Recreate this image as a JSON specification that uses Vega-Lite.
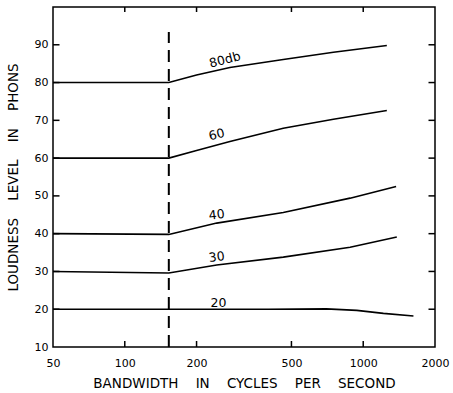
{
  "$schema": "https://vega.github.io/schema/vega-lite/v6.json",
  "width": 382,
  "height": 340,
  "autosize": {"type": "none"},
  "padding": {"left": 53, "top": 7, "right": 18, "bottom": 46},
  "background": "white",
  "config": {
    "font": "DejaVu Sans",
    "view": {"stroke": "black", "strokeWidth": 1.5},
    "axis": {
      "grid": false,
      "domain": false,
      "ticks": false,
      "labelColor": "black",
      "labelFont": "DejaVu Sans",
      "labelFontSize": 11,
      "titleColor": "black",
      "titleFont": "DejaVu Sans",
      "titleFontSize": 13.5,
      "titleFontWeight": "normal"
    }
  },
  "datasets": {
    "curves": [
      {"series": "80", "f": 50, "v": 80},
      {"series": "80", "f": 153, "v": 80},
      {"series": "80", "f": 200, "v": 82.0},
      {"series": "80", "f": 276, "v": 84.0},
      {"series": "80", "f": 462, "v": 86.1},
      {"series": "80", "f": 750, "v": 88.0},
      {"series": "80", "f": 1256, "v": 89.8},
      {"series": "60", "f": 50, "v": 60},
      {"series": "60", "f": 153, "v": 60},
      {"series": "60", "f": 200, "v": 62.0},
      {"series": "60", "f": 276, "v": 64.4},
      {"series": "60", "f": 462, "v": 67.9},
      {"series": "60", "f": 750, "v": 70.3},
      {"series": "60", "f": 1256, "v": 72.6},
      {"series": "40", "f": 50, "v": 40},
      {"series": "40", "f": 153, "v": 39.8},
      {"series": "40", "f": 243, "v": 42.8},
      {"series": "40", "f": 462, "v": 45.6},
      {"series": "40", "f": 881, "v": 49.4},
      {"series": "40", "f": 1374, "v": 52.5},
      {"series": "30", "f": 50, "v": 30},
      {"series": "30", "f": 153, "v": 29.6},
      {"series": "30", "f": 243, "v": 31.7},
      {"series": "30", "f": 462, "v": 33.8},
      {"series": "30", "f": 881, "v": 36.4},
      {"series": "30", "f": 1383, "v": 39.1},
      {"series": "20", "f": 50, "v": 20},
      {"series": "20", "f": 153, "v": 20},
      {"series": "20", "f": 400, "v": 20},
      {"series": "20", "f": 700, "v": 20.1},
      {"series": "20", "f": 940, "v": 19.7},
      {"series": "20", "f": 1215, "v": 18.9},
      {"series": "20", "f": 1624, "v": 18.2}
    ],
    "critical": [
      {"f": 153, "v": 10, "v2": 93.4}
    ],
    "xticks": [
      {"f": 100, "v": 10}, {"f": 200, "v": 10}, {"f": 500, "v": 10}, {"f": 1000, "v": 10},
      {"f": 100, "v": 100}, {"f": 200, "v": 100}, {"f": 500, "v": 100}, {"f": 1000, "v": 100}
    ],
    "yticks": [
      {"f": 50, "v": 20}, {"f": 50, "v": 30}, {"f": 50, "v": 40}, {"f": 50, "v": 50},
      {"f": 50, "v": 60}, {"f": 50, "v": 70}, {"f": 50, "v": 80}, {"f": 50, "v": 90},
      {"f": 2000, "v": 20}, {"f": 2000, "v": 30}, {"f": 2000, "v": 40}, {"f": 2000, "v": 50},
      {"f": 2000, "v": 60}, {"f": 2000, "v": 70}, {"f": 2000, "v": 80}, {"f": 2000, "v": 90}
    ],
    "labels": [
      {"text": "80db", "f": 263, "v": 86.0, "tilt": "steep"},
      {"text": "60", "f": 243, "v": 66.2, "tilt": "steep"},
      {"text": "40", "f": 243, "v": 45.0, "tilt": "mild"},
      {"text": "30", "f": 243, "v": 33.8, "tilt": "mild"},
      {"text": "20", "f": 247, "v": 21.7, "tilt": "flat"}
    ]
  },
  "encoding": {
    "x": {
      "field": "f", "type": "quantitative",
      "scale": {"type": "log", "domain": [50, 2000], "nice": false},
      "axis": {
        "orient": "bottom",
        "values": [50, 100, 200, 500, 1000, 2000],
        "format": "d",
        "labelFlush": false,
        "labelPadding": 10,
        "title": "BANDWIDTH\u00a0\u00a0\u00a0\u00a0IN\u00a0\u00a0\u00a0\u00a0CYCLES\u00a0\u00a0\u00a0\u00a0PER\u00a0\u00a0\u00a0\u00a0SECOND",
        "titlePadding": 8
      }
    },
    "y": {
      "field": "v", "type": "quantitative",
      "scale": {"domain": [10, 100], "nice": false, "zero": false},
      "axis": {
        "orient": "left",
        "values": [10, 20, 30, 40, 50, 60, 70, 80, 90],
        "labelPadding": 5,
        "title": "LOUDNESS\u00a0\u00a0\u00a0\u00a0LEVEL\u00a0\u00a0\u00a0\u00a0IN\u00a0\u00a0\u00a0\u00a0PHONS",
        "titlePadding": 14
      }
    }
  },
  "layer": [
    {
      "data": {"name": "curves"},
      "mark": {"type": "line", "color": "black", "strokeWidth": 1.6},
      "encoding": {"detail": {"field": "series"}}
    },
    {
      "data": {"name": "critical"},
      "mark": {"type": "rule", "color": "black", "strokeWidth": 2, "strokeDash": [12, 7]},
      "encoding": {"y2": {"field": "v2"}}
    },
    {
      "data": {"name": "xticks"},
      "transform": [{"filter": "datum.v === 10"}],
      "mark": {"type": "tick", "orient": "vertical", "color": "black", "size": 6, "thickness": 1.5, "opacity": 1, "yOffset": -3},
      "encoding": {}
    },
    {
      "data": {"name": "xticks"},
      "transform": [{"filter": "datum.v === 100"}],
      "mark": {"type": "tick", "orient": "vertical", "color": "black", "size": 5, "thickness": 1.5, "opacity": 1, "yOffset": 2.5},
      "encoding": {}
    },
    {
      "data": {"name": "yticks"},
      "mark": {"type": "tick", "orient": "horizontal", "color": "black", "size": 13, "thickness": 1.5, "opacity": 1, "clip": true},
      "encoding": {}
    },
    {
      "data": {"name": "labels"},
      "transform": [{"filter": "datum.tilt === 'steep'"}],
      "mark": {"type": "text", "font": "DejaVu Sans", "fontSize": 12.5, "angle": 345, "color": "black"},
      "encoding": {"text": {"field": "text"}}
    },
    {
      "data": {"name": "labels"},
      "transform": [{"filter": "datum.tilt === 'mild'"}],
      "mark": {"type": "text", "font": "DejaVu Sans", "fontSize": 12.5, "angle": 353, "color": "black"},
      "encoding": {"text": {"field": "text"}}
    },
    {
      "data": {"name": "labels"},
      "transform": [{"filter": "datum.tilt === 'flat'"}],
      "mark": {"type": "text", "font": "DejaVu Sans", "fontSize": 12.5, "angle": 0, "color": "black"},
      "encoding": {"text": {"field": "text"}}
    }
  ]
}
